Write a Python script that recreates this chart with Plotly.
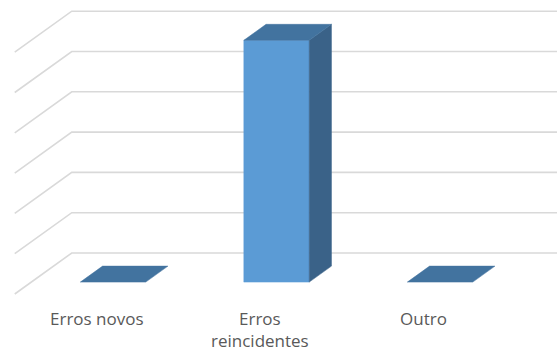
import plotly.graph_objects as go

# ---- data ----
categories = ["Erros novos", "Erros reincidentes", "Outro"]
values = [0, 6, 0]
label_lines = [["Erros novos"], ["Erros", "reincidentes"], ["Outro"]]
grid_values = [0, 1, 2, 3, 4, 5, 6]

# ---- oblique 3D projection (category, value, depth) -> plot coords ----
PX_PER_CAT = 163.5
PX_PER_VAL = 40.3
DX = -57 / PX_PER_CAT      # x shift per full depth (wall -> front)
DY = -41 / PX_PER_VAL      # y shift per full depth
W = 0.2                    # half bar width (category units)
D_FRONT, D_BACK = 0.71, 0.32


def proj(c, v, d):
    return c + d * DX, v + d * DY


def poly(pts):
    xs, ys = zip(*[proj(*p) for p in pts])
    return list(xs) + [xs[0]], list(ys) + [ys[0]]


fig = go.Figure()

GRID = "#D9D9D9"
left = -0.5
right = 2.7
for g in grid_values:
    x0, y0 = proj(left, g, 1)
    x1, y1 = proj(left, g, 0)
    x2, y2 = proj(right, g, 0)
    fig.add_trace(go.Scatter(x=[x0, x1, x2], y=[y0, y1, y2], mode="lines",
                             line=dict(color=GRID, width=1.6),
                             hoverinfo="skip", showlegend=False))

FRONT = "#5B9BD5"
SIDE = "#3A6288"
TOP = "#42739F"

for i, (cat, v) in enumerate(zip(categories, values)):
    c = i
    faces = []
    if v > 0:
        faces.append((FRONT, [(c - W, 0, D_FRONT), (c + W, 0, D_FRONT),
                              (c + W, v, D_FRONT), (c - W, v, D_FRONT)]))
        faces.append((SIDE, [(c + W, 0, D_FRONT), (c + W, 0, D_BACK),
                             (c + W, v, D_BACK), (c + W, v, D_FRONT)]))
    faces.append((TOP, [(c - W, v, D_FRONT), (c + W, v, D_FRONT),
                        (c + W, v, D_BACK), (c - W, v, D_BACK)]))
    for col, pts in faces:
        xs, ys = poly(pts)
        fig.add_trace(go.Scatter(x=xs, y=ys, mode="lines", fill="toself",
                                 fillcolor=col, line=dict(color=col, width=0.5),
                                 name=cat, hoverinfo="skip", showlegend=False))

# category labels under the floor front edge
line_y = [(253 - 318) / PX_PER_VAL, (253 - 340) / PX_PER_VAL]
for i, lines in enumerate(label_lines):
    lx, _ = proj(i, 0, 1)
    for j, t in enumerate(lines):
        fig.add_annotation(x=lx, y=line_y[j], text=t, showarrow=False,
                           xanchor="center", yanchor="middle", borderpad=0,
                           font=dict(family="Open Sans", size=17, color="#595959"))

fig.update_layout(
    width=557, height=352,
    margin=dict(l=0, r=0, t=0, b=0),
    paper_bgcolor="white", plot_bgcolor="white",
    xaxis=dict(range=[-153.5 / PX_PER_CAT, (557 - 153.5) / PX_PER_CAT],
               visible=False, fixedrange=True),
    yaxis=dict(range=[(253 - 352) / PX_PER_VAL, 253 / PX_PER_VAL],
               visible=False, fixedrange=True),
)

fig.write_html("out.html")
